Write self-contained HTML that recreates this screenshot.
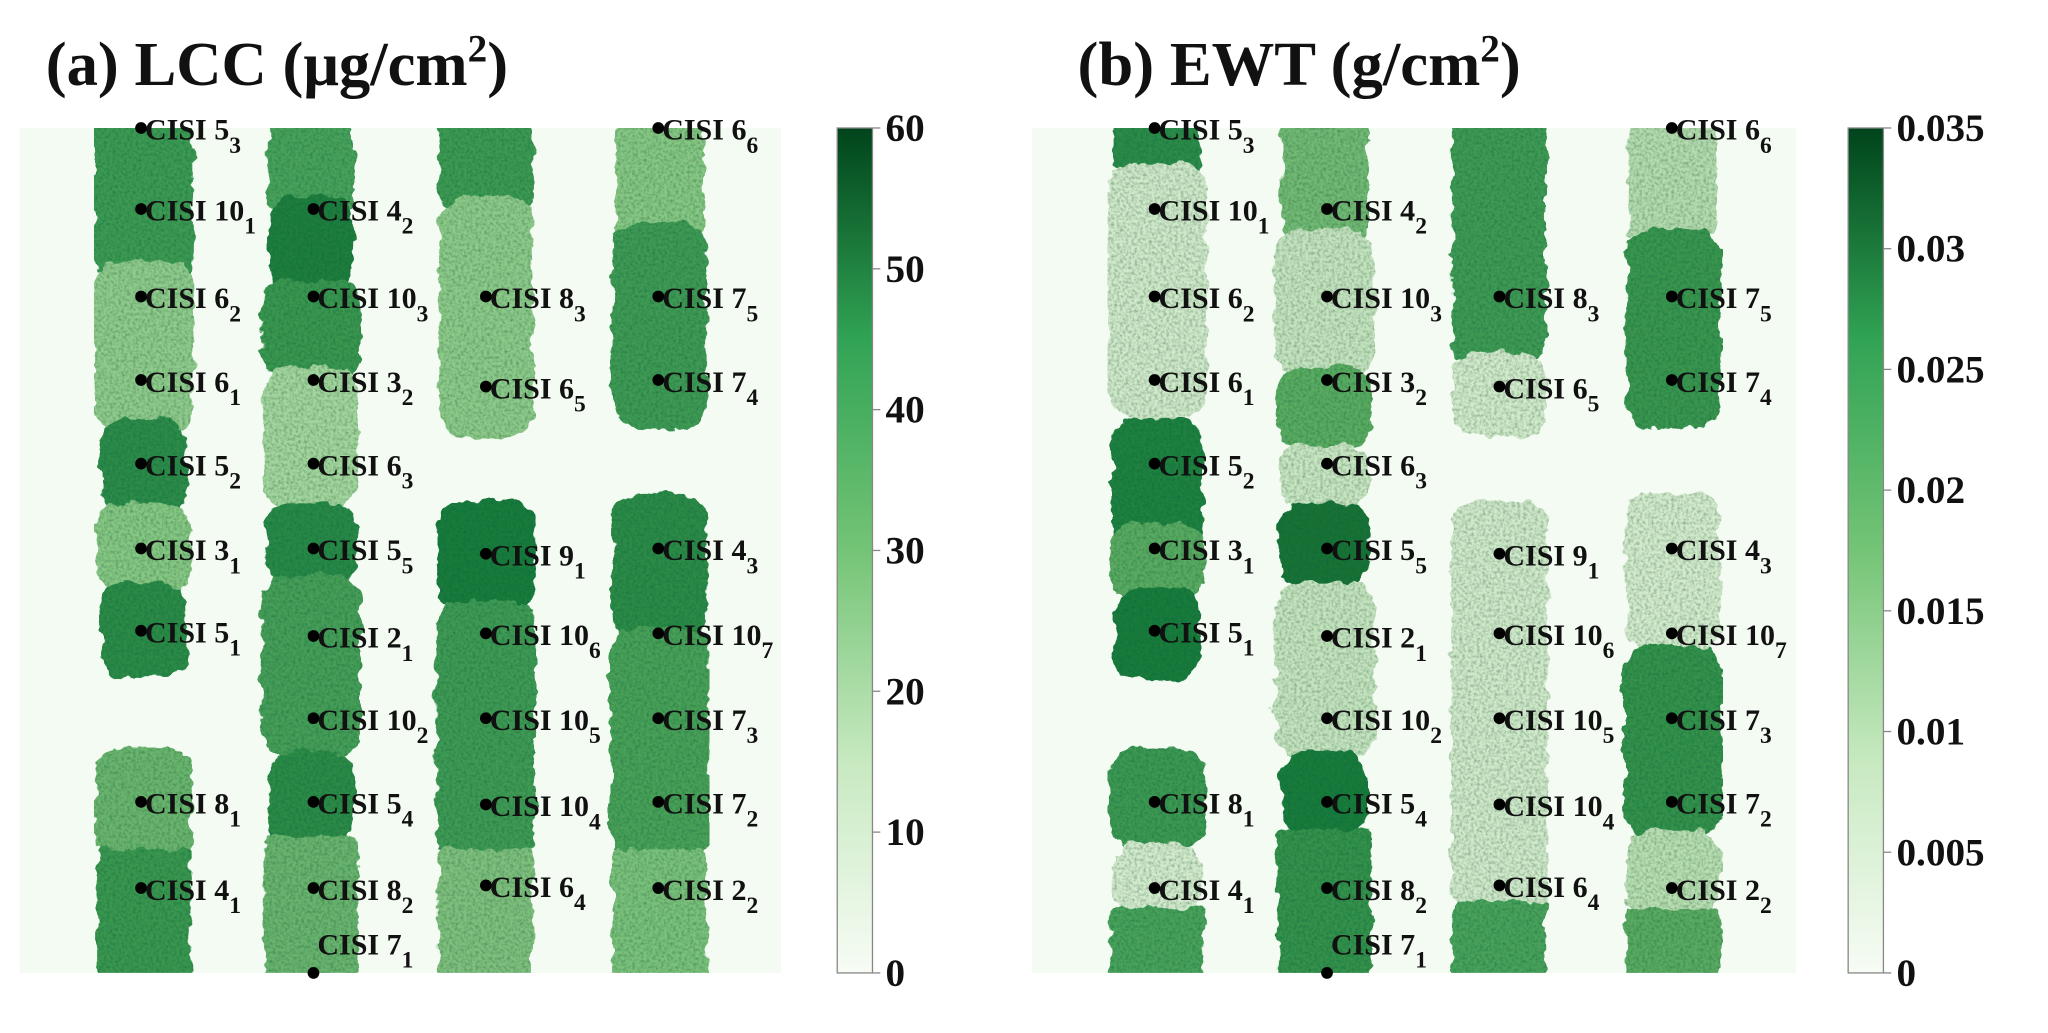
<!DOCTYPE html>
<html><head><meta charset="utf-8"><style>
html,body{margin:0;padding:0;background:#fff;}
svg{display:block;}
text{font-family:"Liberation Serif",serif;font-weight:bold;fill:#111;}
</style></head><body>
<svg id="s" width="2048" height="1033" viewBox="0 0 1568 791" preserveAspectRatio="none" xmlns="http://www.w3.org/2000/svg">
<defs>
<filter id="nz" x="0" y="0" width="100%" height="100%">
<feTurbulence type="fractalNoise" baseFrequency="0.08" numOctaves="3" seed="7" result="d"/>
<feDisplacementMap in="SourceGraphic" in2="d" scale="10" xChannelSelector="R" yChannelSelector="G" result="sg"/>
<feTurbulence type="fractalNoise" baseFrequency="0.45" numOctaves="2" seed="3" result="t"/>
<feColorMatrix in="t" type="matrix" values="0 0 0 0 0  0 0 0 0 0.15  0 0 0 0 0.05  1.2 0 0 0 -0.45" result="n"/>
<feComposite in="n" in2="sg" operator="in" result="nn"/>
<feMerge><feMergeNode in="sg"/><feMergeNode in="nn"/></feMerge>
</filter>
<linearGradient id="cb" x1="0" y1="1" x2="0" y2="0">
<stop offset="0" stop-color="#f7fcf5"/><stop offset="0.25" stop-color="#c7e9c0"/><stop offset="0.5" stop-color="#74c476"/><stop offset="0.75" stop-color="#31a354"/><stop offset="1" stop-color="#00441b"/>
</linearGradient>
</defs>
<text x="35" y="65" font-size="48">(a) LCC (μg/cm<tspan font-size="30" dy="-18">2</tspan><tspan dy="18">)</tspan></text>
<text x="825" y="65" font-size="48">(b) EWT (g/cm<tspan font-size="30" dy="-18">2</tspan><tspan dy="18">)</tspan></text>
<rect x="15" y="98" width="583" height="647" fill="#f4fbf2"/>
<rect x="790" y="98" width="585" height="647" fill="#f4fbf2"/>
<svg x="15" y="98" width="583" height="647" viewBox="15 98 583 647" overflow="hidden"><g id="ga" filter="url(#nz)"></g></svg>
<svg x="790" y="98" width="585" height="647" viewBox="790 98 585 647" overflow="hidden"><g id="gb" filter="url(#nz)"></g></svg>
<g id="lab"></g>
<rect x="641" y="98" width="27" height="647" fill="url(#cb)" stroke="#888" stroke-width="1"/>
<rect x="1415" y="98" width="27" height="647" fill="url(#cb)" stroke="#888" stroke-width="1"/>
<g id="cbt"></g>
</svg>
<script>
var NS="http://www.w3.org/2000/svg";
function el(p,t,a,txt){var e=document.createElementNS(NS,t);for(var k in a)e.setAttribute(k,a[k]);if(txt!=null)e.textContent=txt;p.appendChild(e);return e;}
var A=[[110,[[95,210,'#3d9a52',38],[200,330,'#8fcb8c',38],[320,395,'#2f8b48',33],[385,455,'#86c784',36],[445,520,'#2f8a47',33],[573,660,'#6ab56e',37],[650,750,'#3b9650',36]]],
[238,[[95,160,'#4aa25b',33],[150,225,'#237d3d',32],[215,290,'#3b9650',38],[280,390,'#a3d69e',36],[385,450,'#2b8846',35],[440,580,'#479e58',38],[575,650,'#2d8a47',33],[640,750,'#69b46e',36]]],
[372,[[95,160,'#3d9952',36],[150,335,'#8dca8a',36],[383,470,'#1f7a3a',37],[460,660,'#3f9a55',38],[650,750,'#7fc07e',36]]],
[505,[[95,180,'#86c784',34],[170,328,'#3f9a54',36],[377,490,'#2e8a47',36],[480,660,'#48a058',38],[650,750,'#7ac17b',36]]]];
var B=[[886,[[95,130,'#2f8b48',33],[125,320,'#cfe9ca',38],[320,420,'#24803f',35],[400,460,'#5aaa62',36],[450,520,'#1f7a3a',33],[573,650,'#3d9852',37],[645,700,'#d3ebcd',34],[695,750,'#4aa25b',36]]],
[1014,[[95,180,'#72b974',33],[175,290,'#c4e4bf',38],[280,345,'#5aac62',36],[340,390,'#c8e6c2',34],[385,450,'#1a7134',35],[445,580,'#c4e4bf',38],[575,640,'#1f7a3a',33],[635,750,'#35914c',36]]],
[1148,[[95,275,'#3f9a55',36],[270,335,'#d0eacb',36],[383,700,'#cfe9ca',37],[690,750,'#4aa25b',36]]],
[1281,[[95,180,'#b5dcb0',34],[175,328,'#3a9550',36],[377,500,'#d3ebcd',36],[495,640,'#35914c',38],[635,700,'#b8deb2',36],[695,750,'#5aaa62',36]]]];
function draw(g,D){D.forEach(function(c){c[1].forEach(function(s){var y0=s[0],y1=s[1];var top=(y0<=100),bot=(y1>=745);
el(g,'rect',{x:c[0]-s[3],y:y0,width:2*s[3],height:y1-y0,rx:top||bot?4:20,fill:s[2]});});});}
draw(document.getElementById('ga'),A);draw(document.getElementById('gb'),B);
var L=[[108,98,'5','3'],[108,160,'10','1'],[108,227,'6','2'],[108,291,'6','1'],[108,355,'5','2'],[108,420,'3','1'],[108,483,'5','1'],[108,614,'8','1'],[108,680,'4','1'],
[240,160,'4','2'],[240,227,'10','3'],[240,291,'3','2'],[240,355,'6','3'],[240,420,'5','5'],[240,487,'2','1'],[240,550,'10','2'],[240,614,'5','4'],[240,680,'8','2'],[240,745,'7','1',1],
[372,227,'8','3'],[372,296,'6','5'],[372,424,'9','1'],[372,485,'10','6'],[372,550,'10','5'],[372,616,'10','4'],[372,678,'6','4'],
[504,98,'6','6'],[504,227,'7','5'],[504,291,'7','4'],[504,420,'4','3'],[504,485,'10','7'],[504,550,'7','3'],[504,614,'7','2'],[504,680,'2','2']];
var lab=document.getElementById('lab');
[0,776].forEach(function(o){L.forEach(function(l){var x=l[0]+o,y=l[1];el(lab,'circle',{cx:x,cy:y,r:4.5,fill:'#000'});
var ty=l[4]?y-14:y+9;var t=el(lab,'text',{x:x+3,y:ty,'font-size':23});t.textContent='CISI '+l[2];
el(t,'tspan',{dy:10,'font-size':18},l[3]);});});
var cbt=document.getElementById('cbt');
for(var i=0;i<=6;i++){var y=745-i*647/6;el(cbt,'line',{x1:668,y1:y,x2:674,y2:y,stroke:'#888'});el(cbt,'text',{x:678,y:y+10,'font-size':30},String(i*10));}
var bl=['0','0.005','0.01','0.015','0.02','0.025','0.03','0.035'];
for(var i=0;i<=7;i++){var y=745-i*647/7;el(cbt,'line',{x1:1442,y1:y,x2:1448,y2:y,stroke:'#888'});el(cbt,'text',{x:1452,y:y+10,'font-size':30},bl[i]);}
</script>
</body></html>
